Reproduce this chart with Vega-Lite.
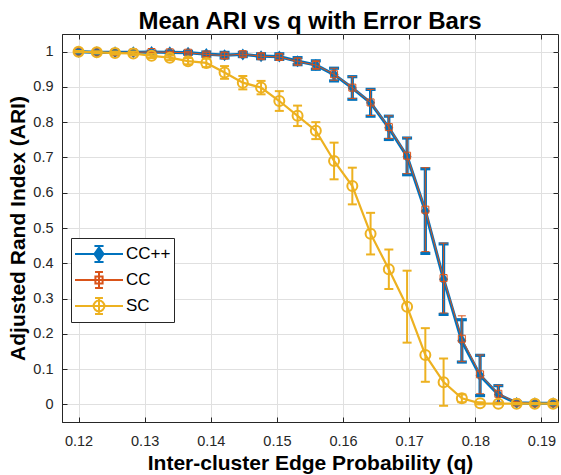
{
  "$schema": "https://vega.github.io/schema/vega-lite/v6.json",
  "width": 496,
  "height": 388,
  "autosize": {"type": "none"},
  "padding": {"left": 62, "top": 34, "right": 3, "bottom": 53},
  "background": "white",
  "title": {
    "text": "Mean ARI vs q with Error Bars",
    "font": "Liberation Sans",
    "fontSize": 24,
    "fontWeight": "bold",
    "color": "#000000",
    "anchor": "middle",
    "baseline": "alphabetic",
    "offset": -19
  },
  "config": {
    "view": {"stroke": "#262626", "strokeWidth": 1},
    "axis": {
      "labelFont": "Liberation Sans",
      "labelFontSize": 14.5,
      "labelColor": "#262626",
      "titleFont": "Liberation Sans",
      "titleFontSize": 21,
      "titleFontWeight": "bold",
      "titleColor": "#000000",
      "domainColor": "#262626",
      "tickColor": "#262626",
      "gridColor": "#e0e0e0",
      "tickSize": -5
    }
  },
  "data": {
    "values": [
      {"q": 0.12, "m": "CC++", "ari": 1.000, "lo": 0.998, "hi": 1.002},
      {"q": 0.12276, "m": "CC++", "ari": 0.998, "lo": 0.995, "hi": 1.001},
      {"q": 0.12552, "m": "CC++", "ari": 0.998, "lo": 0.995, "hi": 1.001},
      {"q": 0.12828, "m": "CC++", "ari": 0.998, "lo": 0.995, "hi": 1.001},
      {"q": 0.13104, "m": "CC++", "ari": 0.999, "lo": 0.997, "hi": 1.001},
      {"q": 0.1338, "m": "CC++", "ari": 0.998, "lo": 0.995, "hi": 1.001},
      {"q": 0.13656, "m": "CC++", "ari": 0.997, "lo": 0.993, "hi": 1.001},
      {"q": 0.13932, "m": "CC++", "ari": 0.993, "lo": 0.987, "hi": 0.999},
      {"q": 0.14208, "m": "CC++", "ari": 0.990, "lo": 0.982, "hi": 0.998},
      {"q": 0.14484, "m": "CC++", "ari": 0.992, "lo": 0.986, "hi": 0.998},
      {"q": 0.1476, "m": "CC++", "ari": 0.987, "lo": 0.980, "hi": 0.994},
      {"q": 0.15036, "m": "CC++", "ari": 0.986, "lo": 0.978, "hi": 0.994},
      {"q": 0.15312, "m": "CC++", "ari": 0.973, "lo": 0.963, "hi": 0.983},
      {"q": 0.15588, "m": "CC++", "ari": 0.962, "lo": 0.950, "hi": 0.974},
      {"q": 0.15864, "m": "CC++", "ari": 0.935, "lo": 0.917, "hi": 0.953},
      {"q": 0.1614, "m": "CC++", "ari": 0.897, "lo": 0.865, "hi": 0.929},
      {"q": 0.16416, "m": "CC++", "ari": 0.855, "lo": 0.817, "hi": 0.893},
      {"q": 0.16692, "m": "CC++", "ari": 0.784, "lo": 0.751, "hi": 0.817},
      {"q": 0.16968, "m": "CC++", "ari": 0.703, "lo": 0.651, "hi": 0.755},
      {"q": 0.17244, "m": "CC++", "ari": 0.548, "lo": 0.428, "hi": 0.668},
      {"q": 0.1752, "m": "CC++", "ari": 0.355, "lo": 0.255, "hi": 0.455},
      {"q": 0.17796, "m": "CC++", "ari": 0.180, "lo": 0.120, "hi": 0.240},
      {"q": 0.18072, "m": "CC++", "ari": 0.082, "lo": 0.025, "hi": 0.139},
      {"q": 0.18348, "m": "CC++", "ari": 0.028, "lo": 0.003, "hi": 0.053},
      {"q": 0.18624, "m": "CC++", "ari": 0.004, "lo": 0.000, "hi": 0.008},
      {"q": 0.189, "m": "CC++", "ari": 0.003, "lo": 0.000, "hi": 0.006},
      {"q": 0.19176, "m": "CC++", "ari": 0.003, "lo": 0.000, "hi": 0.006},

      {"q": 0.12, "m": "CC", "ari": 1.000, "lo": 0.998, "hi": 1.002},
      {"q": 0.12276, "m": "CC", "ari": 0.998, "lo": 0.995, "hi": 1.001},
      {"q": 0.12552, "m": "CC", "ari": 0.998, "lo": 0.995, "hi": 1.001},
      {"q": 0.12828, "m": "CC", "ari": 0.998, "lo": 0.995, "hi": 1.001},
      {"q": 0.13104, "m": "CC", "ari": 0.999, "lo": 0.997, "hi": 1.001},
      {"q": 0.1338, "m": "CC", "ari": 0.998, "lo": 0.995, "hi": 1.001},
      {"q": 0.13656, "m": "CC", "ari": 0.997, "lo": 0.993, "hi": 1.001},
      {"q": 0.13932, "m": "CC", "ari": 0.992, "lo": 0.986, "hi": 0.998},
      {"q": 0.14208, "m": "CC", "ari": 0.989, "lo": 0.981, "hi": 0.997},
      {"q": 0.14484, "m": "CC", "ari": 0.993, "lo": 0.987, "hi": 0.999},
      {"q": 0.1476, "m": "CC", "ari": 0.987, "lo": 0.980, "hi": 0.994},
      {"q": 0.15036, "m": "CC", "ari": 0.985, "lo": 0.977, "hi": 0.993},
      {"q": 0.15312, "m": "CC", "ari": 0.972, "lo": 0.962, "hi": 0.982},
      {"q": 0.15588, "m": "CC", "ari": 0.962, "lo": 0.950, "hi": 0.974},
      {"q": 0.15864, "m": "CC", "ari": 0.936, "lo": 0.919, "hi": 0.953},
      {"q": 0.1614, "m": "CC", "ari": 0.898, "lo": 0.867, "hi": 0.929},
      {"q": 0.16416, "m": "CC", "ari": 0.856, "lo": 0.819, "hi": 0.893},
      {"q": 0.16692, "m": "CC", "ari": 0.786, "lo": 0.754, "hi": 0.818},
      {"q": 0.16968, "m": "CC", "ari": 0.705, "lo": 0.654, "hi": 0.756},
      {"q": 0.17244, "m": "CC", "ari": 0.552, "lo": 0.433, "hi": 0.671},
      {"q": 0.1752, "m": "CC", "ari": 0.358, "lo": 0.259, "hi": 0.457},
      {"q": 0.17796, "m": "CC", "ari": 0.186, "lo": 0.121, "hi": 0.251},
      {"q": 0.18072, "m": "CC", "ari": 0.085, "lo": 0.030, "hi": 0.140},
      {"q": 0.18348, "m": "CC", "ari": 0.030, "lo": 0.006, "hi": 0.054},
      {"q": 0.18624, "m": "CC", "ari": 0.005, "lo": 0.001, "hi": 0.009},
      {"q": 0.189, "m": "CC", "ari": 0.003, "lo": 0.000, "hi": 0.006},
      {"q": 0.19176, "m": "CC", "ari": 0.003, "lo": 0.000, "hi": 0.006},

      {"q": 0.12, "m": "SC", "ari": 1.000, "lo": 0.998, "hi": 1.002},
      {"q": 0.12276, "m": "SC", "ari": 0.998, "lo": 0.995, "hi": 1.001},
      {"q": 0.12552, "m": "SC", "ari": 0.996, "lo": 0.992, "hi": 1.000},
      {"q": 0.12828, "m": "SC", "ari": 0.995, "lo": 0.990, "hi": 1.000},
      {"q": 0.13104, "m": "SC", "ari": 0.988, "lo": 0.982, "hi": 0.994},
      {"q": 0.1338, "m": "SC", "ari": 0.983, "lo": 0.976, "hi": 0.990},
      {"q": 0.13656, "m": "SC", "ari": 0.973, "lo": 0.964, "hi": 0.982},
      {"q": 0.13932, "m": "SC", "ari": 0.968, "lo": 0.956, "hi": 0.980},
      {"q": 0.14208, "m": "SC", "ari": 0.941, "lo": 0.923, "hi": 0.959},
      {"q": 0.14484, "m": "SC", "ari": 0.912, "lo": 0.893, "hi": 0.931},
      {"q": 0.1476, "m": "SC", "ari": 0.898, "lo": 0.879, "hi": 0.917},
      {"q": 0.15036, "m": "SC", "ari": 0.860, "lo": 0.832, "hi": 0.888},
      {"q": 0.15312, "m": "SC", "ari": 0.818, "lo": 0.789, "hi": 0.847},
      {"q": 0.15588, "m": "SC", "ari": 0.776, "lo": 0.752, "hi": 0.800},
      {"q": 0.15864, "m": "SC", "ari": 0.690, "lo": 0.638, "hi": 0.742},
      {"q": 0.1614, "m": "SC", "ari": 0.619, "lo": 0.567, "hi": 0.671},
      {"q": 0.16416, "m": "SC", "ari": 0.484, "lo": 0.425, "hi": 0.543},
      {"q": 0.16692, "m": "SC", "ari": 0.383, "lo": 0.327, "hi": 0.439},
      {"q": 0.16968, "m": "SC", "ari": 0.277, "lo": 0.175, "hi": 0.379},
      {"q": 0.17244, "m": "SC", "ari": 0.140, "lo": 0.064, "hi": 0.216},
      {"q": 0.1752, "m": "SC", "ari": 0.063, "lo": -0.004, "hi": 0.130},
      {"q": 0.17796, "m": "SC", "ari": 0.017, "lo": 0.006, "hi": 0.028},
      {"q": 0.18072, "m": "SC", "ari": 0.003, "lo": 0.000, "hi": 0.006},
      {"q": 0.18348, "m": "SC", "ari": 0.002, "lo": 0.000, "hi": 0.004},
      {"q": 0.18624, "m": "SC", "ari": 0.002, "lo": 0.000, "hi": 0.004},
      {"q": 0.189, "m": "SC", "ari": 0.002, "lo": 0.000, "hi": 0.004},
      {"q": 0.19176, "m": "SC", "ari": 0.002, "lo": 0.000, "hi": 0.004}
    ]
  },
  "encoding": {
    "x": {"field": "q", "type": "quantitative", "scale": {"domain": [0.1175, 0.1925], "nice": false, "zero": false}, "axis": null},
    "y": {"field": "ari", "type": "quantitative", "scale": {"domain": [-0.05, 1.05], "nice": false, "zero": false}, "axis": null}
  },
  "layer": [
    {
      "transform": [{"filter": "false"}],
      "mark": {"type": "point", "opacity": 0},
      "encoding": {
        "x": {
          "field": "q", "type": "quantitative",
          "scale": {"domain": [0.1175, 0.1925], "nice": false, "zero": false},
          "axis": {
            "orient": "bottom", "values": [0.12, 0.13, 0.14, 0.15, 0.16, 0.17, 0.18, 0.19],
            "format": ".2f", "grid": true, "labelPadding": 17, "titlePadding": 5,
            "title": "Inter-cluster Edge Probability (q)"
          }
        },
        "y": {
          "field": "ari", "type": "quantitative",
          "scale": {"domain": [-0.05, 1.05], "nice": false, "zero": false},
          "axis": {
            "orient": "left", "values": [0, 0.1, 0.2, 0.3, 0.4, 0.5, 0.6, 0.7, 0.8, 0.9, 1],
            "format": "~g", "grid": true, "labelPadding": 14, "titlePadding": 4,
            "title": "Adjusted Rand Index (ARI)"
          }
        }
      }
    },
    {
      "transform": [{"filter": "datum.m === 'CC++'"}],
      "mark": {"type": "line", "color": "#0072BD", "strokeWidth": 3.2},
      "encoding": {}
    },
    {
      "transform": [{"filter": "datum.m === 'CC++'"}],
      "mark": {"type": "errorbar", "ticks": true, "size": 10, "thickness": 3.2, "color": "#0072BD", "opacity": 1},
      "encoding": {
        "y": {"field": "lo", "type": "quantitative", "scale": {"domain": [-0.05, 1.05], "nice": false, "zero": false}, "axis": null},
        "y2": {"field": "hi"}
      }
    },
    {
      "transform": [{"filter": "datum.m === 'CC++'"}],
      "mark": {"type": "point", "shape": "M0,-1L0.75,0L0,1L-0.75,0Z", "size": 144, "filled": true, "opacity": 1, "color": "#0072BD"},
      "encoding": {}
    },
    {
      "transform": [{"filter": "datum.m === 'CC'"}],
      "mark": {"type": "line", "color": "#D95319", "strokeWidth": 1},
      "encoding": {}
    },
    {
      "transform": [{"filter": "datum.m === 'CC'"}],
      "mark": {"type": "errorbar", "ticks": true, "size": 8, "thickness": 1, "color": "#D95319", "opacity": 1},
      "encoding": {
        "y": {"field": "lo", "type": "quantitative", "scale": {"domain": [-0.05, 1.05], "nice": false, "zero": false}, "axis": null},
        "y2": {"field": "hi"}
      }
    },
    {
      "transform": [{"filter": "datum.m === 'CC'"}],
      "mark": {"type": "point", "shape": "square", "size": 49, "filled": false, "opacity": 1, "strokeWidth": 1, "color": "#D95319"},
      "encoding": {}
    },
    {
      "transform": [{"filter": "datum.m === 'SC'"}],
      "mark": {"type": "line", "color": "#EDB120", "strokeWidth": 2.2},
      "encoding": {}
    },
    {
      "transform": [{"filter": "datum.m === 'SC'"}],
      "mark": {"type": "errorbar", "ticks": true, "size": 9, "thickness": 2, "color": "#EDB120", "opacity": 1},
      "encoding": {
        "y": {"field": "lo", "type": "quantitative", "scale": {"domain": [-0.05, 1.05], "nice": false, "zero": false}, "axis": null},
        "y2": {"field": "hi"}
      }
    },
    {
      "transform": [{"filter": "datum.m === 'SC'"}],
      "mark": {"type": "point", "shape": "circle", "size": 100, "filled": false, "opacity": 1, "strokeWidth": 2, "color": "#EDB120"},
      "encoding": {}
    },
    {
      "transform": [{"filter": "false"}],
      "mark": {"type": "point", "opacity": 1, "strokeWidth": 2},
      "encoding": {
        "x": {
          "field": "q", "type": "quantitative",
          "scale": {"domain": [0.1175, 0.1925], "nice": false, "zero": false},
          "axis": {
            "orient": "top", "values": [0.12, 0.13, 0.14, 0.15, 0.16, 0.17, 0.18, 0.19],
            "labels": false, "grid": false, "domain": false, "title": null
          }
        },
        "y": {
          "field": "ari", "type": "quantitative",
          "scale": {"domain": [-0.05, 1.05], "nice": false, "zero": false},
          "axis": {
            "orient": "right", "values": [0, 0.1, 0.2, 0.3, 0.4, 0.5, 0.6, 0.7, 0.8, 0.9, 1],
            "labels": false, "grid": false, "domain": false, "title": null
          }
        },
        "shape": {
          "field": "m", "type": "nominal",
          "scale": {
            "domain": ["CC++", "CC", "SC"],
            "range": [
              "M-1,0L3,0M1,-0.67L1,0.67M0.62,-0.67L1.38,-0.67M0.62,0.67L1.38,0.67M1,-0.55L1.38,0L1,0.55L0.62,0Z",
              "M-1,0L3,0M1,-0.67L1,0.67M0.67,-0.67L1.33,-0.67M0.67,0.67L1.33,0.67M0.7,-0.3L1.3,-0.3L1.3,0.3L0.7,0.3Z",
              "M-1,0L3,0M1,-0.67L1,0.67M0.67,-0.67L1.33,-0.67M0.67,0.67L1.33,0.67M1.45,0A0.45,0.45 0 1,1 0.55,0A0.45,0.45 0 1,1 1.45,0Z"
            ]
          },
          "legend": {
            "orient": "none", "legendX": 9, "legendY": 204, "title": null,
            "symbolSize": 576, "symbolStrokeWidth": 2, "labelFont": "Liberation Sans",
            "labelFontSize": 17, "labelColor": "#000000", "labelOffset": 26, "rowPadding": -1,
            "padding": 3, "strokeColor": "#262626", "fillColor": "#ffffff"
          }
        },
        "stroke": {
          "field": "m", "type": "nominal",
          "scale": {"domain": ["CC++", "CC", "SC"], "range": ["#0072BD", "#D95319", "#EDB120"]},
          "legend": {
            "orient": "none", "legendX": 9, "legendY": 204, "title": null,
            "symbolSize": 576, "symbolStrokeWidth": 2, "labelFont": "Liberation Sans",
            "labelFontSize": 17, "labelColor": "#000000", "labelOffset": 26, "rowPadding": -1,
            "padding": 3, "strokeColor": "#262626", "fillColor": "#ffffff"
          }
        },
        "fill": {
          "field": "m", "type": "nominal",
          "scale": {"domain": ["CC++", "CC", "SC"], "range": ["#0072BD", "transparent", "transparent"]},
          "legend": {
            "orient": "none", "legendX": 9, "legendY": 204, "title": null,
            "symbolSize": 576, "symbolStrokeWidth": 2, "labelFont": "Liberation Sans",
            "labelFontSize": 17, "labelColor": "#000000", "labelOffset": 26, "rowPadding": -1,
            "padding": 3, "strokeColor": "#262626", "fillColor": "#ffffff"
          }
        }
      }
    }
  ]
}
